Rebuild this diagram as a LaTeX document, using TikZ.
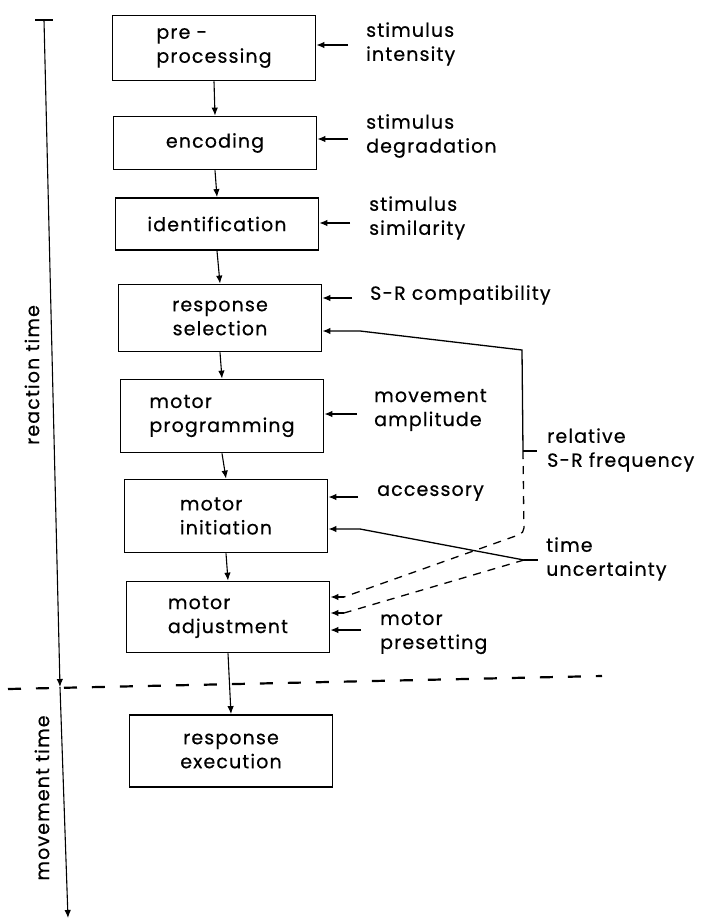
\documentclass[tikz,border=0pt]{standalone}
\usepackage{fontspec}
\setmainfont{Poppins}[FakeBold=0.5, LetterSpace=6]
\usetikzlibrary{arrows.meta}
\begin{document}
\begin{tikzpicture}[x=1pt,y=-1pt,
  txt/.style={font=\fontsize{19}{24}\selectfont},
  box/.style={txt, draw, line width=1.8pt, minimum width=203pt, inner sep=0pt, align=left},
  lab/.style={txt, anchor=west, align=left, inner sep=0pt},
  conn/.style={line width=1.1pt},
  tip/.style={-{Latex[length=8pt,width=6.5pt]}},
  fb/.style={line width=1.3pt},
  fbdash/.style={line width=1.3pt, dash pattern=on 8pt off 7pt},
  sep/.style={line width=2.2pt, dash pattern=on 13pt off 15pt},
]
\useasboundingbox (0,0) rectangle (708,921);

% processing stages
\node[box, minimum height=65pt] (pre)   at (214,48)  {pre -\\processing};
\node[box, minimum height=53pt] (enc)   at (215,143) {encoding};
\node[box, minimum height=52pt] (ide)   at (217,224) {identification};
\node[box, minimum height=67pt, align=center] (rsel) at (220,318) {response\\selection};
\node[box, minimum height=73pt] (mprog) at (222,416) {motor\\programming};
\node[box, minimum height=73pt] (minit) at (226,516) {motor\\initiation};
\node[box, minimum height=71pt] (madj)  at (228,617) {motor\\adjustment};
\node[box, minimum height=72pt, align=center] (rexec) at (231,751) {response\\execution};

\foreach \a/\b in {pre/enc, enc/ide, ide/rsel, rsel/mprog, mprog/minit, minit/madj, madj/rexec}
  \draw[conn,tip] (\a.south) -- (\b.north);

% factor labels
\node[lab] (sint) at (366,44)  {stimulus\\intensity};
\node[lab] (sdeg) at (366,136) {stimulus\\degradation};
\node[lab] (ssim) at (369,218) {stimulus\\similarity};
\node[lab] (srcomp) at (370,295) {S-R compatibility};
\node[lab] (mamp) at (374,410) {movement\\amplitude};
\node[lab] (acc)  at (377,493) {accessory};
\node[lab] (mpre) at (380,633) {motor\\presetting};
\node[lab] (rsrf) at (547,450) {relative\\S-R frequency};
\node[lab] (tunc) at (546,559) {time\\uncertainty};

% short factor arrows
\coordinate (a1) at (348,45);
\coordinate (a2) at (348,139);
\coordinate (a3) at (350,223);
\coordinate (a4) at (352,298);
\coordinate (a5) at (357,414);
\coordinate (a6) at (358,497);
\coordinate (a7) at (361,630);
\draw[conn,tip] (a1) -- (a1 -| pre.east);
\draw[conn,tip] (a2) -- (a2 -| enc.east);
\draw[conn,tip] (a3) -- (a3 -| ide.east);
\draw[conn,tip] (a4) -- (a4 -| rsel.east);
\draw[conn,tip] (a5) -- (a5 -| mprog.east);
\draw[conn,tip] (a6) -- (a6 -| minit.east);
\draw[conn,tip] (a7) -- (a7 -| madj.east);

% relative S-R frequency
\coordinate (rfj) at (523,451);
\coordinate (rft) at (537,451);
\coordinate (rf2) at (522,350);
\coordinate (rf1) at (360,331);
\coordinate (rf3) at (524,533);
\coordinate (rf4) at (344,597);
\draw[fb] (rfj) -- (rft);
\draw[fb,tip] (rfj) -- (rf2) -- (rf1) -- (rf1 -| rsel.east);
\draw[fbdash,rounded corners=5pt] (rfj) -- (rf3) -- (rf4);
\draw[fb,tip] (rf4) -- (rf4 -| madj.east);

% time uncertainty
\coordinate (tj) at (524,560);
\coordinate (tt) at (538,560);
\coordinate (tu1) at (360,529);
\coordinate (tu2) at (344,613);
\draw[fb] (tj) -- (tt);
\draw[fb,tip] (tj) -- (tu1) -- (tu1 -| minit.east);
\draw[fbdash] (tj) -- (tu2);
\draw[fb,tip] (tu2) -- (tu2 -| madj.east);

% time axis
\coordinate (axtop) at (44,20);
\coordinate (tl) at (35,20);
\coordinate (tr) at (53,20);
\coordinate (axmid) at (60,687);
\coordinate (axbot) at (68,918);
\draw[conn] (tl) -- (tr);
\draw[conn,tip] (axtop) -- (axmid);
\draw[conn,tip] (axmid) -- (axbot);
\node[txt, rotate=90, inner sep=0pt] (rt) at (32,375) {reaction time};
\node[txt, rotate=90, inner sep=0pt] (mt) at (42,798) {movement time};

% separation between reaction and movement time
\coordinate (s1) at (8,689);
\coordinate (s2) at (602,676);
\draw[sep] (s1) -- (s2);
\end{tikzpicture}
\end{document}
